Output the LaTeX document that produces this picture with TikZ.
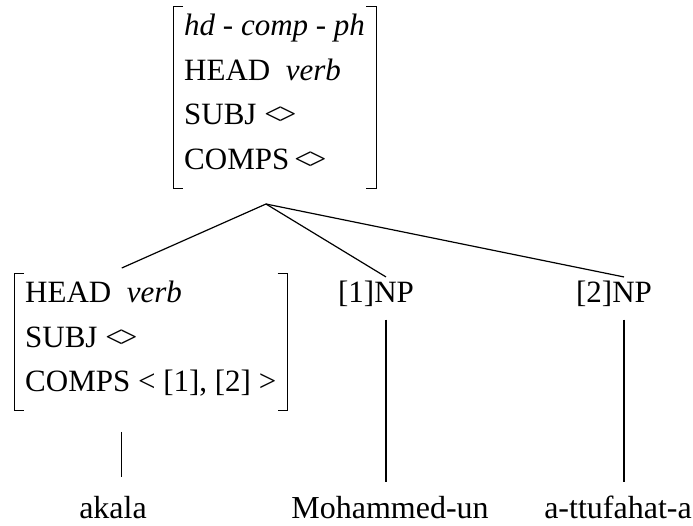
\documentclass[tikz,border=0pt]{standalone}
\usepackage{fontspec}
\setmainfont{Liberation Serif}
\usepackage{tikz}

\newcommand{\elist}{<\kern-3pt>}

\begin{document}
\begin{tikzpicture}[x=1pt, y=-1pt,
    every node/.style={font=\fontsize{31}{44.5}\selectfont},
    avm/.style={anchor=north west, align=left, inner xsep=11pt, inner ysep=8pt},
    word/.style={anchor=base, font=\fontsize{32}{38}\selectfont},
    branch/.style={line width=1.2pt},
    bracket/.style={line width=1pt}]
  \useasboundingbox (0,0) rectangle (693,525);

  % mother AVM
  \node[avm] (mother) at (173,6)
    {\textit{hd - comp - ph}\\
     HEAD~~\textit{verb}\\
     SUBJ \elist\\
     COMPS\,\elist\rule[-11pt]{0pt}{11pt}};
  \draw[bracket] ([xshift=10pt]mother.north west) -- (mother.north west)
    -- (mother.south west) -- ([xshift=10pt]mother.south west);
  \draw[bracket] ([xshift=-10pt]mother.north east) -- (mother.north east)
    -- (mother.south east) -- ([xshift=-10pt]mother.south east);

  % head daughter AVM
  \node[avm] (head) at (14,273)
    {HEAD~~\textit{verb}\\
     SUBJ \elist\\
     COMPS < [1], [2] >\rule[-11pt]{0pt}{11pt}};
  \draw[bracket] ([xshift=10pt]head.north west) -- (head.north west)
    -- (head.south west) -- ([xshift=10pt]head.south west);
  \draw[bracket] ([xshift=-10pt]head.north east) -- (head.north east)
    -- (head.south east) -- ([xshift=-10pt]head.south east);

  % complement daughters
  \node[anchor=base] (np1) at (376,302) {[1]NP};
  \node[anchor=base] (np2) at (614,302) {[2]NP};

  % words
  \node[word] (akala) at (113,518) {akala};
  \node[word] (moh) at (390,518) {Mohammed-un};
  \node[word] (tuf) at (618,518) {a-ttufahat-a};

  % branches
  \coordinate (knot) at (266,204);
  \draw[branch] (knot) -- ([xshift=-29pt,yshift=5pt]head.north);
  \draw[branch] (knot) -- ([xshift=10pt]np1.north);
  \draw[branch] (knot) -- ([xshift=10pt]np2.north);

  % stems down to the words
  \coordinate (hfoot) at ([xshift=-29pt]head.south);
  \coordinate (np1foot) at ([xshift=10pt]np1.south);
  \coordinate (np2foot) at ([xshift=10pt]np2.south);
  \draw[branch, shorten <=21pt, shorten >=15pt] (hfoot) -- (hfoot |- akala.north);
  \draw[branch, shorten <=10pt, shorten >=10pt] (np1foot) -- (np1foot |- moh.north);
  \draw[branch, shorten <=10pt, shorten >=10pt] (np2foot) -- (np2foot |- tuf.north);
\end{tikzpicture}
\end{document}
